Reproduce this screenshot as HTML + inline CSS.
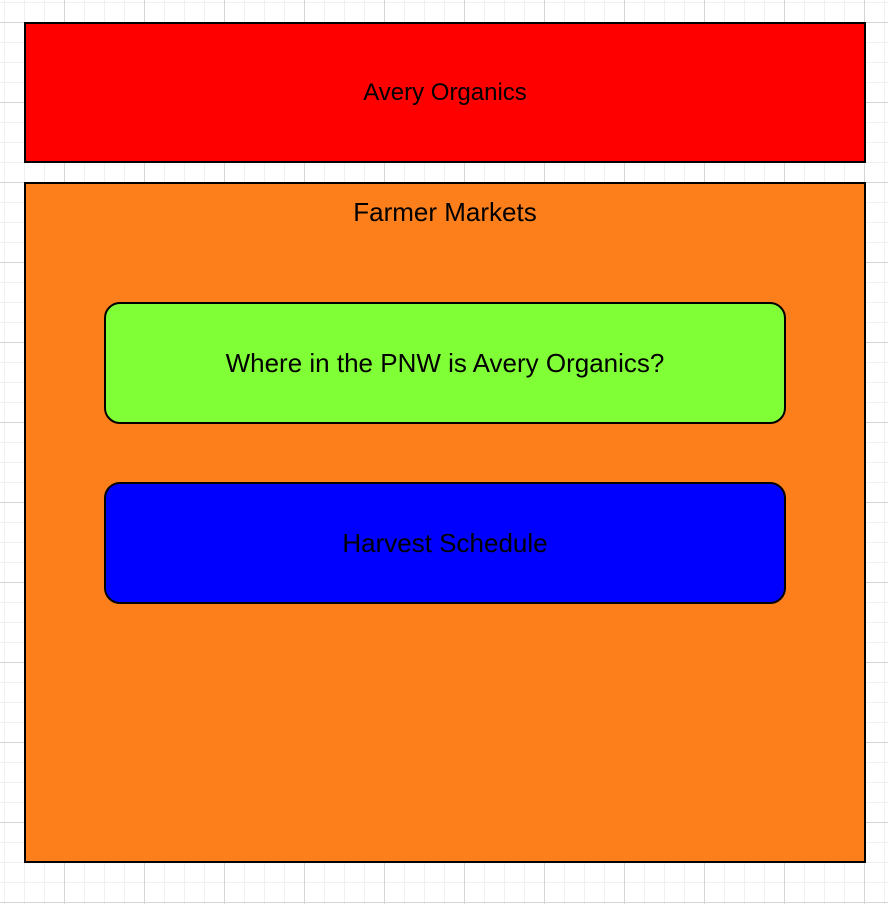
<!DOCTYPE html>
<html><head><style>
body{margin:0;width:888px;height:904px;overflow:hidden;position:relative;font-family:"Liberation Sans",Helvetica,Arial,sans-serif;
background-color:#fff;
background-image:
linear-gradient(to right,#d6d6d6 1px,transparent 1px),
linear-gradient(to bottom,#d6d6d6 1px,transparent 1px),
linear-gradient(to right,#f0f0f0 1px,transparent 1px),
linear-gradient(to bottom,#f0f0f0 1px,transparent 1px);
background-size:80px 80px,80px 80px,20px 20px,20px 20px;
background-position:64px 22px,64px 22px,4px 2px,4px 2px;}
.b{position:absolute;box-sizing:border-box;border:2px solid #000;display:flex;align-items:center;justify-content:center;font-size:26px;color:#000}
</style></head><body>
<div class="b" style="left:24px;top:22px;width:842px;height:141px;background:#ff0000;font-size:24px">Avery Organics</div>
<div class="b" style="left:24px;top:182px;width:842px;height:681px;background:#fd7f1b;align-items:flex-start;padding-top:13px">Farmer Markets</div>
<div class="b" style="left:104px;top:302px;width:682px;height:122px;background:#80ff37;border-radius:16px">Where in the PNW is Avery Organics?</div>
<div class="b" style="left:104px;top:482px;width:682px;height:122px;background:#0000ff;border-radius:16px">Harvest Schedule</div>
</body></html>
